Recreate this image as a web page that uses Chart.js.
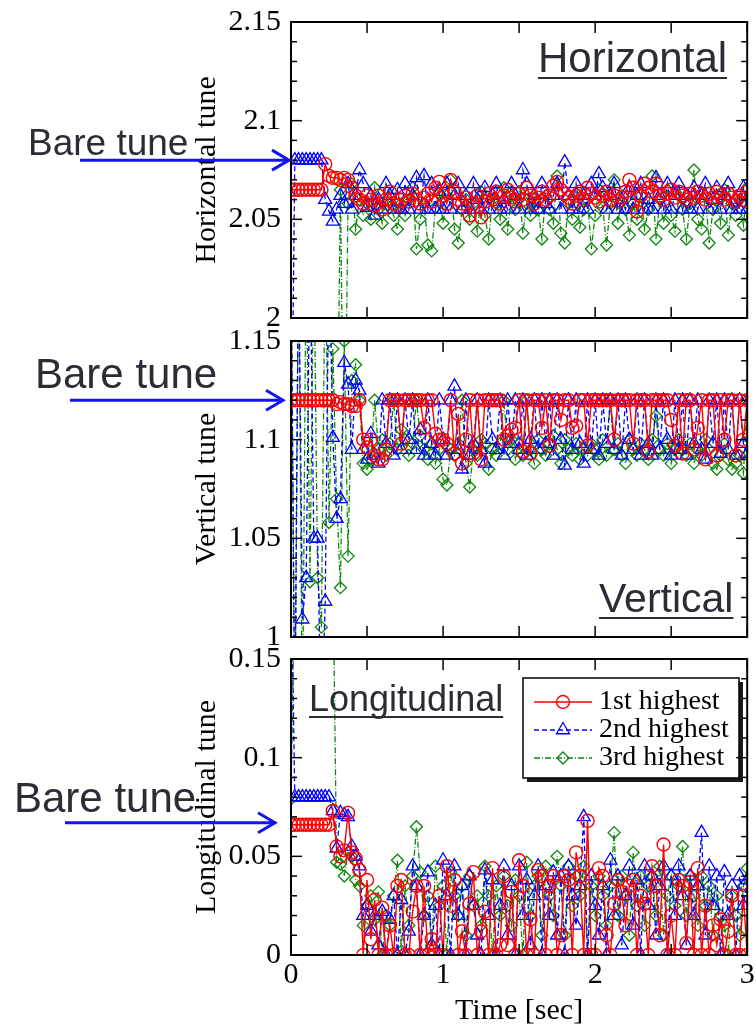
<!DOCTYPE html>
<html>
<head>
<meta charset="utf-8">
<script src="https://cdn.jsdelivr.net/npm/chart.js@4.4.0/dist/chart.umd.min.js"></script>
<style>
  body { margin: 0; background: #fff; }
  #wrap { position: relative; width: 756px; height: 1026px; overflow: hidden; }
  #wrap canvas { position: absolute; left: 0; }
</style>
</head>
<body>
<div id="wrap">
  <canvas id="horizontal" width="756" height="345" style="top:0px"></canvas>
  <canvas id="vertical" width="756" height="345" style="top:318px"></canvas>
  <canvas id="longitudinal" width="756" height="390" style="top:636px"></canvas>
</div>
<script>
// sampling times in seconds
const sampleTimes = [0,0.025,0.05,0.075,0.1,0.125,0.15,0.175,0.2,0.225,0.25,0.275,0.3,0.325,0.35,0.375,0.4,0.425,0.45,0.475,
  0.5,0.525,0.55,0.575,0.6,0.625,0.65,0.675,0.7,0.725,0.75,0.775,0.8,0.825,0.85,0.875,0.9,0.925,0.95,0.975,
  1,1.025,1.05,1.075,1.1,1.125,1.15,1.175,1.2,1.225,1.25,1.275,1.3,1.325,1.35,1.375,1.4,1.425,1.45,1.475,
  1.5,1.525,1.55,1.575,1.6,1.625,1.65,1.675,1.7,1.725,1.75,1.775,1.8,1.825,1.85,1.875,1.9,1.925,1.95,1.975,
  2,2.025,2.05,2.075,2.1,2.125,2.15,2.175,2.2,2.225,2.25,2.275,2.3,2.325,2.35,2.375,2.4,2.425,2.45,2.475,
  2.5,2.525,2.55,2.575,2.6,2.625,2.65,2.675,2.7,2.725,2.75,2.775,2.8,2.825,2.85,2.875,2.9,2.925,2.95,2.975,3]

const seriesLabels = ['1st highest', '2nd highest', '3rd highest']
const bareTunes = [2.08, 1.12, 0.067]

// horizontal tune
const horizontalFirst = [2.065,2.065,2.065,2.065,2.065,2.065,2.065,2.065,2.065,
  2.078,2.072,2.071,2.071,2.070,2.071,2.070,2.066,2.062,
  2.060,2.058,2.062,2.060,2.057,2.062,2.055,2.060,2.064,2.058,2.057,2.060,
  2.062,2.059,2.063,2.060,2.058,2.061,2.063,2.059,2.066,2.069,2.062,2.058,
  2.070,2.064,2.060,2.058,2.061,2.052,2.058,2.062,2.051,2.059,2.063,2.060,
  2.064,2.058,2.062,2.065,2.061,2.059,2.063,2.060,2.066,2.062,2.058,2.061,
  2.064,2.060,2.062,2.067,2.069,2.065,2.063,2.061,2.058,2.062,2.064,2.060,
  2.066,2.063,2.061,2.059,2.062,2.064,2.060,2.062,2.059,2.061,2.064,2.070,
  2.066,2.054,2.062,2.068,2.066,2.064,2.068,2.062,2.060,2.063,2.065,2.061,
  2.064,2.062,2.060,2.063,2.061,2.064,2.062,2.060,2.063,2.061,2.064,2.062,
  2.060,2.063,2.061,2.059,2.062,2.060,2.064]
const horizontalSecond = [1.9,
  2.08,2.08,2.08,2.08,2.08,2.08,2.08,2.08,
  2.060,2.054,2.049,2.055,2.062,2.058,2.068,2.055,2.062,
  2.075,2.068,2.056,2.062,2.052,2.060,2.055,2.068,2.062,2.055,2.065,2.055,
  2.068,2.055,2.062,2.071,2.055,2.072,2.055,2.068,2.055,2.064,2.055,2.068,
  2.055,2.062,2.068,2.055,2.062,2.055,2.068,2.060,2.055,2.066,2.055,2.062,
  2.068,2.055,2.060,2.055,2.068,2.062,2.055,2.075,2.068,2.055,2.062,2.055,
  2.068,2.058,2.055,2.062,2.068,2.055,2.079,2.062,2.055,2.068,2.055,2.062,
  2.055,2.068,2.062,2.073,2.066,2.055,2.062,2.068,2.055,2.060,2.055,2.066,
  2.055,2.062,2.068,2.055,2.060,2.055,2.071,2.062,2.055,2.068,2.055,2.062,
  2.068,2.055,2.062,2.055,2.066,2.055,2.062,2.068,2.055,2.060,2.066,2.055,
  2.062,2.068,2.055,2.060,2.055,2.066,2.055]
const horizontalThird = [null,null,null,null,null,null,null,null,null,null,null,null,
  1.9,2.065,1.9,2.058,2.068,2.045,
  2.060,2.052,2.058,2.050,2.066,2.055,2.048,2.060,2.056,2.052,2.045,2.058,
  2.052,2.060,2.066,2.035,2.050,2.058,2.037,2.034,2.056,2.063,2.048,2.062,
  2.070,2.045,2.038,2.055,2.060,2.050,2.058,2.044,2.064,2.052,2.040,2.060,
  2.058,2.050,2.066,2.045,2.062,2.055,2.064,2.043,2.058,2.052,2.060,2.055,
  2.040,2.062,2.055,2.048,2.072,2.043,2.038,2.058,2.050,2.063,2.046,2.055,
  2.060,2.035,2.052,2.065,2.056,2.037,2.058,2.070,2.048,2.062,2.055,2.042,
  2.058,2.050,2.062,2.045,2.055,2.072,2.040,2.060,2.048,2.065,2.052,2.044,
  2.062,2.055,2.040,2.058,2.075,2.050,2.045,2.062,2.038,2.055,2.060,2.048,
  2.065,2.042,2.058,2.052,2.060,2.047,2.066]

// vertical tune
const verticalFirst = [1.12,1.12,1.12,1.12,1.12,1.12,1.12,1.12,1.12,1.12,1.12,1.12,
  1.118,1.119,1.118,1.118,1.117,1.117,
  1.12,1.10,1.096,1.100,1.092,1.090,1.090,1.095,1.12,1.12,1.12,1.098,
  1.12,1.12,1.12,1.12,1.12,1.106,1.12,1.12,1.103,1.100,1.100,1.098,
  1.12,1.093,1.113,1.088,1.100,1.12,1.093,1.12,1.090,1.12,1.12,1.12,
  1.12,1.12,1.100,1.102,1.105,1.106,1.12,1.094,1.12,1.093,1.12,1.12,
  1.106,1.12,1.097,1.12,1.12,1.11,1.12,1.12,1.106,1.107,1.12,1.12,
  1.097,1.12,1.12,1.12,1.12,1.12,1.12,1.100,1.12,1.12,1.12,1.12,
  1.098,1.12,1.12,1.12,1.094,1.12,1.12,1.12,1.12,1.12,1.11,1.097,
  1.12,1.093,1.12,1.12,1.095,1.106,1.12,1.09,1.12,1.12,1.092,1.12,
  1.10,1.12,1.12,1.092,1.12,1.10,1.12]
const verticalSecond = [1.2,0.95,1.2,1.009,1.03,1.2,1.05,1.05,0.95,1.018,1.2,1.101,1.06,1.07,1.139,1.128,1.095,1.13,1.125,
  1.095,1.090,1.103,1.092,1.088,1.120,1.098,1.120,1.092,1.120,1.095,1.120,
  1.100,1.120,1.095,1.105,1.092,1.120,1.098,1.092,1.120,1.100,1.092,1.120,
  1.127,1.095,1.085,1.120,1.092,1.098,1.120,1.095,1.088,1.120,1.100,1.095,
  1.120,1.092,1.120,1.098,1.120,1.095,1.120,1.092,1.100,1.120,1.095,1.120,
  1.098,1.120,1.092,1.120,1.100,1.087,1.120,1.095,1.120,1.098,1.088,1.120,
  1.095,1.120,1.092,1.120,1.098,1.120,1.095,1.120,1.092,1.120,1.100,1.095,
  1.120,1.092,1.120,1.098,1.092,1.120,1.095,1.120,1.100,1.092,1.120,1.095,
  1.120,1.092,1.120,1.098,1.120,1.095,1.090,1.120,1.098,1.120,1.093,1.120,
  1.095,1.120,1.092,1.120,1.098,1.093]
const verticalThird = [1.2,0.95,1.2,0.95,1.2,1.028,1.2,1.03,1.005,1.2,1.058,1.146,1.07,1.025,1.15,1.041,1.13,1.138,1.12,
  1.088,1.085,1.090,1.120,1.095,1.100,1.092,1.098,1.120,1.095,1.105,1.100,
  1.092,1.098,1.120,1.102,1.095,1.090,1.098,1.088,1.095,1.080,1.077,1.095,
  1.092,1.098,1.120,1.088,1.076,1.095,1.092,1.100,1.098,1.085,1.095,1.092,
  1.098,1.120,1.095,1.100,1.090,1.098,1.092,1.120,1.095,1.088,1.100,1.095,
  1.092,1.098,1.102,1.095,1.088,1.100,1.095,1.092,1.098,1.090,1.095,1.092,
  1.098,1.095,1.090,1.100,1.092,1.120,1.095,1.098,1.092,1.088,1.100,1.095,
  1.092,1.098,1.095,1.090,1.100,1.112,1.095,1.092,1.098,1.088,1.095,1.100,
  1.095,1.092,1.098,1.088,1.095,1.092,1.100,1.095,1.088,1.085,1.092,1.098,
  1.090,1.085,1.088,1.092,1.083,1.12]

// longitudinal tune
const longitudinalFirst = [0.066,0.066,0.066,0.066,0.066,0.066,0.066,0.066,0.066,0.066,0.066,
  0.073,0.055,0.050,0.053,0.072,0.052,0.049,0.043,0,
  0.038,0.008,0.028,0,0.024,0,0.015,0,0.035,0.038,0,0,
  0.022,0.035,0,0.035,0,0.008,0,0.03,0,0.045,0.025,0.038,
  0,0.012,0,0.026,0.042,0,0.012,0.022,0,0.044,0,0.005,
  0.04,0.005,0.032,0,0.048,0.035,0,0.018,0,0.043,0.04,0,
  0.035,0.04,0,0.01,0.04,0.038,0,0.052,0.04,0,0.068,0,
  0,0.044,0.04,0.01,0,0.026,0.038,0.032,0.015,0.035,0.038,0,
  0.03,0.026,0,0.045,0.035,0.01,0.056,0,0.02,0,0.038,0.035,
  0.006,0.037,0,0.044,0,0.025,0,0.015,0.005,0.018,0,0.012,
  0.03,0,0,0.03,0]
const longitudinalSecond = [0.2,0.08,0.08,0.08,0.08,0.08,0.08,0.08,0.08,0.08,0.08,
  0.073,0.054,0.072,0.071,0.07,0.055,0.05,0.045,0.02,
  0.025,0.012,0.02,0.005,0.022,0,0.018,0.03,0,0.028,0,0.012,
  0.045,0.035,0,0.02,0.042,0.005,0.025,0,0.048,0.03,0,0.045,
  0.02,0.035,0,0.04,0.025,0.01,0,0.043,0.02,0.038,0,0.025,
  0.045,0.01,0.035,0,0.045,0.02,0.038,0.005,0.03,0.045,0,0.035,
  0.02,0.042,0.01,0.04,0,0.045,0.03,0.015,0.035,0.07,0,0.04,
  0.025,0.01,0.035,0,0.048,0.02,0.04,0.005,0.03,0.045,0.015,0.038,
  0,0.045,0.025,0.04,0.01,0.035,0.045,0,0.04,0.02,0.045,0.03,
  0.005,0.04,0.02,0.035,0.062,0.01,0.045,0.025,0.04,0,0.042,0.02,
  0.035,0,0.04,0.025,0.038]
const longitudinalThird = [0.079,0.2,null,null,null,null,null,null,null,null,null,
  0.2,0.047,0.046,0.04,0.052,0.05,0.038,0.035,0.015,
  0.025,0.03,0.018,0.032,0,0.02,0.015,0.03,0.048,0.002,0.035,0.015,
  0.04,0.065,0.042,0.02,0.03,0.005,0.045,0.025,0.035,0,0.042,0.03,
  0.02,0.035,0.01,0.04,0.025,0.03,0.015,0.045,0.03,0,0.035,0.02,
  0.04,0.025,0.015,0.038,0.03,0,0.047,0.02,0.035,0.04,0.01,0.045,
  0.03,0.02,0.05,0.035,0.01,0.045,0.025,0.04,0.03,0.045,0,0.035,
  0.02,0.04,0.03,0.015,0.035,0.062,0.02,0.04,0.03,0.01,0.052,0.025,
  0.04,0.015,0.035,0.04,0.02,0.045,0.01,0.03,0.04,0.025,0.035,0.055,
  0.02,0.04,0.03,0.015,0.04,0.025,0.035,0.01,0.03,0.02,0.015,0,
  0.03,0.02,0.01,0.035,0.044]

const SERIF = '"Liberation Serif", "Times New Roman", serif'
const SANS = '"Liberation Sans", Arial, sans-serif'
const TEXT_GREY = '#2c2c37'
const ARROW_BLUE = '#1414f0'
const PLOT_HEIGHT = 296

function isMajor(v, step){
    return Math.abs(v / step - Math.round(v / step)) < 1e-6
}

function line(ctx, x0, y0, x1, y1){
    ctx.beginPath()
    ctx.moveTo(x0, y0)
    ctx.lineTo(x1, y1)
    ctx.stroke()
}

// box around the plot with inward ticks on all four sides
const frameTicks = {
    id: 'frameTicks',
    afterDraw(chart){
        const {ctx, chartArea: a} = chart
        const xs = chart.scales.x
        const ys = chart.scales.y
        ctx.save()
        ctx.strokeStyle = '#000'
        ctx.lineWidth = 1.5
        ys.ticks.forEach(t => {
            const y = ys.getPixelForValue(t.value)
            const len = isMajor(t.value, 0.05) ? 11 : 6
            line(ctx, a.left, y, a.left + len, y)
            line(ctx, a.right, y, a.right - len, y)
        })
        xs.ticks.forEach(t => {
            const x = xs.getPixelForValue(t.value)
            line(ctx, x, a.top, x, a.top + 11)
            line(ctx, x, a.bottom, x, a.bottom - 11)
        })
        ctx.lineWidth = 2
        ctx.strokeRect(a.left, a.top, a.width, a.height)
        ctx.restore()
    }
}

// "Bare tune" arrow and the underlined plane name
const tuneNotes = {
    id: 'tuneNotes',
    afterDraw(chart, args, o){
        const ctx = chart.ctx
        const y = chart.scales.y.getPixelForValue(o.bare)
        ctx.save()
        ctx.fillStyle = TEXT_GREY
        ctx.textBaseline = 'alphabetic'
        ctx.font = `${o.bareSize}px ${SANS}`
        ctx.fillText('Bare tune', o.bareX, y + o.bareDy)
        ctx.strokeStyle = ARROW_BLUE
        ctx.lineWidth = 3
        line(ctx, o.arrowFrom, y, o.arrowTo, y)
        ctx.beginPath()
        ctx.moveTo(o.arrowTo - 17, y - 10)
        ctx.lineTo(o.arrowTo, y)
        ctx.lineTo(o.arrowTo - 17, y + 10)
        ctx.stroke()
        ctx.font = `${o.nameSize}px ${SANS}`
        ctx.fillText(o.name, o.nameX, o.nameY)
        const w = ctx.measureText(o.name).width
        ctx.fillRect(o.nameX, o.nameY + 5, w, 2)
        ctx.restore()
    }
}

// framed legend with a drop shadow, line + marker samples
const boxLegend = {
    id: 'boxLegend',
    afterDatasetsDraw(chart, args, o){
        const ctx = chart.ctx
        ctx.save()
        ctx.fillStyle = '#1a1a1a'
        ctx.fillRect(o.x + 4, o.y + 4, o.w, o.h)
        ctx.fillStyle = '#fff'
        ctx.fillRect(o.x, o.y, o.w, o.h)
        ctx.strokeStyle = '#000'
        ctx.lineWidth = 1.5
        ctx.strokeRect(o.x, o.y, o.w, o.h)
        chart.data.datasets.forEach((ds, i) => {
            const y = o.y + o.rowTop + i * o.rowGap
            ctx.strokeStyle = ds.borderColor
            ctx.lineWidth = ds.borderWidth
            ctx.setLineDash(ds.borderDash || [])
            line(ctx, o.x + 11, y, o.x + 69, y)
            ctx.setLineDash([])
            ctx.fillStyle = 'rgba(0,0,0,0)'
            ctx.lineWidth = ds.pointBorderWidth
            Chart.helpers.drawPoint(ctx, {pointStyle: ds.pointStyle, radius: ds.pointRadius, rotation: 0, borderWidth: ds.pointBorderWidth}, o.x + 40, y)
            ctx.fillStyle = '#000'
            ctx.font = `28px ${SERIF}`
            ctx.textBaseline = 'middle'
            ctx.fillText(ds.label, o.x + 76, y)
        })
        ctx.restore()
    }
}

function tuneDatasets(first, second, third){
    return [
        {label: seriesLabels[0], data: first, borderColor: '#ff0000', borderWidth: 1.4,
         pointStyle: 'circle', pointRadius: 6.5, pointBorderWidth: 1.4},
        {label: seriesLabels[1], data: second, borderColor: '#0000ff', borderWidth: 1.3, borderDash: [5, 3],
         pointStyle: 'triangle', pointRadius: 7.5, pointBorderWidth: 1.3},
        {label: seriesLabels[2], data: third, borderColor: '#0c870c', borderWidth: 1.3, borderDash: [6, 2, 1, 2],
         pointStyle: 'rectRot', pointRadius: 6, pointBorderWidth: 1.3}
    ].map(ds => Object.assign(ds, {
        pointBorderColor: ds.borderColor,
        pointBackgroundColor: 'rgba(0,0,0,0)',
        backgroundColor: 'rgba(0,0,0,0)',
        tension: 0,
        fill: false
    }))
}

function makePanel(id, p){
    const canvasHeight = document.getElementById(id).height
    const serif30 = {family: SERIF, size: 30}
    return new Chart(document.getElementById(id), {
        type: 'line',
        data: {labels: sampleTimes, datasets: tuneDatasets(p.first, p.second, p.third)},
        options: {
            responsive: false,
            animation: false,
            events: [],
            layout: {padding: {top: p.padTop, right: 4, left: 0, bottom: 0}},
            plugins: {
                legend: {display: false},
                tooltip: {enabled: false},
                tuneNotes: p.notes,
                boxLegend: p.legend || false
            },
            scales: {
                x: {
                    type: 'linear', min: 0, max: 3,
                    grid: {display: false}, border: {display: false},
                    ticks: {
                        stepSize: 0.5, autoSkip: false, maxRotation: 0, display: p.showX,
                        font: serif30, color: '#000', padding: -6,
                        callback: v => isMajor(v, 1) ? String(Math.round(v)) : ''
                    },
                    title: {display: p.showX, text: 'Time [sec]', font: serif30, color: '#000', padding: {top: 0, bottom: -3}},
                    afterFit: s => {
                        s.height = canvasHeight - p.padTop - PLOT_HEIGHT
                        s.paddingLeft = 0
                        s.paddingRight = 0
                    }
                },
                y: {
                    type: 'linear', min: p.min, max: p.max,
                    grid: {display: false}, border: {display: false},
                    ticks: {
                        stepSize: 0.01, autoSkip: false, font: serif30, color: '#000', padding: 2,
                        callback: v => isMajor(v, 0.05) ? String(+v.toFixed(2)) : ''
                    },
                    title: {display: true, text: p.yTitle, font: serif30, color: '#000', padding: {top: 189, bottom: 0}},
                    afterFit: s => {
                        s.width = 291
                        s.paddingTop = 0
                        s.paddingBottom = 0
                    }
                }
            }
        },
        plugins: p.legend ? [frameTicks, tuneNotes, boxLegend] : [frameTicks, tuneNotes]
    })
}

makePanel('horizontal', {
    first: horizontalFirst, second: horizontalSecond, third: horizontalThird,
    min: 2, max: 2.15, padTop: 22, showX: false, yTitle: 'Horizontal tune',
    notes: {bare: bareTunes[0], bareX: 28, bareSize: 37, bareDy: -5, arrowFrom: 80, arrowTo: 289,
            name: 'Horizontal', nameX: 538, nameY: 72, nameSize: 42}
})

makePanel('vertical', {
    first: verticalFirst, second: verticalSecond, third: verticalThird,
    min: 1, max: 1.15, padTop: 23, showX: false, yTitle: 'Vertical tune',
    notes: {bare: bareTunes[1], bareX: 35, bareSize: 42, bareDy: -12, arrowFrom: 70, arrowTo: 283,
            name: 'Vertical', nameX: 599, nameY: 294, nameSize: 41}
})

makePanel('longitudinal', {
    first: longitudinalFirst, second: longitudinalSecond, third: longitudinalThird,
    min: 0, max: 0.15, padTop: 23, showX: true, yTitle: 'Longitudinal tune',
    notes: {bare: bareTunes[2], bareX: 14, bareSize: 42, bareDy: -11, arrowFrom: 65, arrowTo: 275,
            name: 'Longitudinal', nameX: 309, nameY: 75, nameSize: 36},
    legend: {x: 523, y: 42, w: 216, h: 100, rowTop: 24, rowGap: 28}
})
</script>
</body>
</html>
